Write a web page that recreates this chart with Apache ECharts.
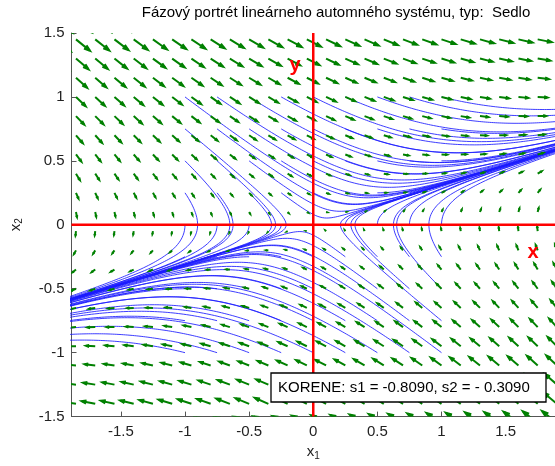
<!DOCTYPE html>
<html>
<head>
<meta charset="utf-8">
<script src="https://cdn.jsdelivr.net/npm/echarts@6/dist/echarts.min.js"></script>
<style>
  html, body { margin: 0; padding: 0; background: #ffffff; }
  #chart { width: 555px; height: 466px; }
</style>
</head>
<body>
<div id="chart"></div>
<script>
// Linear autonomous system:  x1' = a11*x1 + a12*x2,  x2' = a21*x1 + a22*x2
const systemMatrix = [[0, 1], [0.25, -0.5]];

// Initial conditions of the drawn trajectories (every x1 with every x2)
const startX1 = [-1, -0.75, -0.5, -0.25, 0, 0.25, 0.5, 0.75, 1];
const startX2 = [-1, -0.75, -0.5, -0.25, 0, 0.25, 0.5, 0.75, 1];
const simTime = 10;

// Sample points of the direction field
const fieldX1 = [-2, -1.85, -1.7, -1.55, -1.4, -1.25, -1.1, -0.95, -0.8, -0.65, -0.5, -0.35, -0.2, -0.05,
                 0.1, 0.25, 0.4, 0.55, 0.7, 0.85, 1, 1.15, 1.3, 1.45, 1.6, 1.75, 1.9];
const fieldX2 = [-2, -1.85, -1.7, -1.55, -1.4, -1.25, -1.1, -0.95, -0.8, -0.65, -0.5, -0.35, -0.2, -0.05,
                 0.1, 0.25, 0.4, 0.55, 0.7, 0.85, 1, 1.15, 1.3, 1.45, 1.6, 1.75, 1.9];

// Axis extents and tick labels
const x1Range = [-1.885, 1.885];
const x2Range = [-1.5, 1.5];
const ticksX1 = [-1.5, -1, -0.5, 0, 0.5, 1, 1.5];

const titleText = 'Fázový portrét lineárneho automného systému, typ:  Sedlo';
const rootsText = 'KORENE: s1 = -0.8090, s2 = - 0.3090';

const FONT = '"Liberation Sans", Arial, Helvetica, sans-serif';
const GREEN = '#008000';
const RED = '#ff0000';

function rhs(p) {
  const A = systemMatrix;
  return [A[0][0] * p[0] + A[0][1] * p[1], A[1][0] * p[0] + A[1][1] * p[1]];
}

// Runge-Kutta 4 integration of one trajectory
function trajectory(x0, y0) {
  const dt = 0.01;
  const pts = [[x0, y0]];
  let p = [x0, y0];
  for (let t = 0; t < simTime; t += dt) {
    const k1 = rhs(p);
    const k2 = rhs([p[0] + dt / 2 * k1[0], p[1] + dt / 2 * k1[1]]);
    const k3 = rhs([p[0] + dt / 2 * k2[0], p[1] + dt / 2 * k2[1]]);
    const k4 = rhs([p[0] + dt * k3[0], p[1] + dt * k3[1]]);
    p = [p[0] + dt / 6 * (k1[0] + 2 * k2[0] + 2 * k3[0] + k4[0]),
         p[1] + dt / 6 * (k1[1] + 2 * k2[1] + 2 * k3[1] + k4[1])];
    pts.push(p);
    if (Math.abs(p[0]) > 3 || Math.abs(p[1]) > 3) break;
  }
  return pts;
}

// Direction field with quiver-style automatic scaling
const rawField = [];
fieldX1.forEach(x => fieldX2.forEach(y => { const f = rhs([x, y]); rawField.push([x, y, f[0], f[1]]); }));
const n = Math.sqrt(rawField.length);
const delx = (Math.max(...fieldX1) - Math.min(...fieldX1)) / n;
const dely = (Math.max(...fieldX2) - Math.min(...fieldX2)) / n;
const del = delx * delx + dely * dely;
let maxLen = 0;
rawField.forEach(r => { maxLen = Math.max(maxLen, Math.sqrt((r[2] * r[2] + r[3] * r[3]) / del)); });
const arrowScale = 0.9 / maxLen;
const fieldData = rawField.map(r => [r[0], r[1], r[2] * arrowScale, r[3] * arrowScale]);

const series = [];

startX1.forEach(x0 => startX2.forEach(y0 => {
  if (x0 === 0 && y0 === 0) return;
  series.push({
    type: 'line', data: trajectory(x0, y0), showSymbol: false, silent: true, z: 2,
    lineStyle: { color: '#1c1cff', width: 1, opacity: 0.85 }, animation: false
  });
}));

const alpha = 0.33, beta = 0.33;
series.push({
  type: 'custom', data: fieldData, clip: true, z: 3, silent: true, animation: false,
  encode: { x: 0, y: 1 },
  renderItem(params, api) {
    const x = api.value(0), y = api.value(1), u = api.value(2), v = api.value(3);
    const p0 = api.coord([x, y]);
    const p1 = api.coord([x + u, y + v]);
    const ha = api.coord([x + u - alpha * (u + beta * v), y + v - alpha * (v - beta * u)]);
    const hb = api.coord([x + u - alpha * (u - beta * v), y + v - alpha * (v + beta * u)]);
    return {
      type: 'group',
      children: [
        { type: 'polyline', shape: { points: [p0, p1] }, style: { stroke: GREEN, lineWidth: 2, fill: null } },
        { type: 'polyline', shape: { points: [ha, p1, hb] }, style: { stroke: GREEN, lineWidth: 2.2, fill: null } }
      ]
    };
  }
});

// Coordinate axes of the phase plane
series.push({
  type: 'line', data: [[x1Range[0], 0], [x1Range[1], 0]], showSymbol: false, silent: true, z: 4,
  lineStyle: { color: RED, width: 2.5 }, animation: false
});
series.push({
  type: 'line', data: [[0, x2Range[0]], [0, x2Range[1]]], showSymbol: false, silent: true, z: 4,
  lineStyle: { color: RED, width: 2.5 }, animation: false
});

const chart = echarts.init(document.getElementById('chart'), null, { renderer: 'canvas' });
chart.setOption({
  animation: false,
  backgroundColor: '#ffffff',
  grid: { left: 67, top: 33, right: -2, bottom: 46, containLabel: false },
  xAxis: {
    type: 'value', min: x1Range[0], max: x1Range[1],
    name: 'x{s|1}', nameLocation: 'middle', nameGap: 25,
    nameTextStyle: { fontFamily: FONT, fontSize: 15, color: '#222',
      rich: { s: { fontFamily: FONT, fontSize: 10, color: '#222', verticalAlign: 'bottom', padding: [8, 0, 0, 0] } } },
    axisLine: { onZero: false, lineStyle: { color: '#555', width: 1 } },
    axisTick: { inside: true, length: 5, customValues: ticksX1, lineStyle: { color: '#555' } },
    axisLabel: { customValues: ticksX1, fontFamily: FONT, fontSize: 15, color: '#222', margin: 8 },
    splitLine: { show: false }
  },
  yAxis: {
    type: 'value', min: x2Range[0], max: x2Range[1], interval: 0.5,
    name: 'x{s|2}', nameLocation: 'middle', nameGap: 47, nameRotate: 90,
    nameTextStyle: { fontFamily: FONT, fontSize: 15, color: '#222',
      rich: { s: { fontFamily: FONT, fontSize: 10, color: '#222', verticalAlign: 'bottom', padding: [8, 0, 0, 0] } } },
    axisLine: { onZero: false, lineStyle: { color: '#555', width: 1 } },
    axisTick: { inside: true, length: 5, lineStyle: { color: '#555' } },
    axisLabel: { fontFamily: FONT, fontSize: 15, color: '#222', margin: 7 },
    splitLine: { show: false }
  },
  graphic: [
    { type: 'text', x: 336, y: 13, z: 10,
      style: { text: titleText, font: '15px ' + FONT, fill: '#000', align: 'center', verticalAlign: 'middle' } },
    { type: 'text', x: 295, y: 65, z: 10,
      style: { text: 'y', font: 'bold 20px ' + FONT, fill: RED, align: 'center', verticalAlign: 'middle' } },
    { type: 'text', x: 533, y: 252, z: 10,
      style: { text: 'x', font: 'bold 20px ' + FONT, fill: RED, align: 'center', verticalAlign: 'middle' } },
    { type: 'rect', x: 271, y: 373, z: 10,
      shape: { width: 275, height: 29 },
      style: { fill: '#ffffff', stroke: '#000', lineWidth: 1.3 } },
    { type: 'text', x: 278, y: 388, z: 11,
      style: { text: rootsText, font: '15px ' + FONT, fill: '#000', verticalAlign: 'middle' } }
  ],
  series
});
</script>
</body>
</html>
